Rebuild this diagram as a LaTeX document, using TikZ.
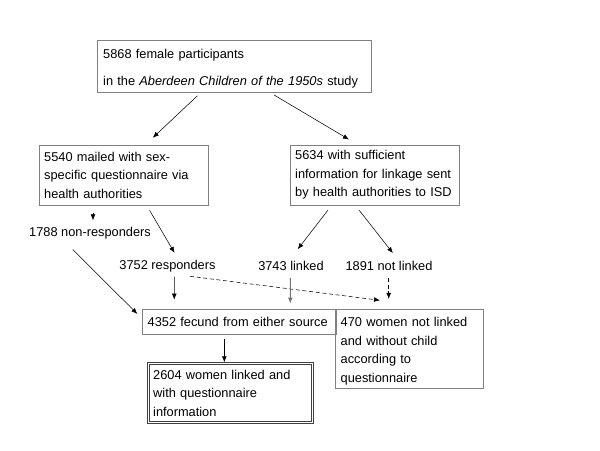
\documentclass[tikz,border=0pt]{standalone}
\usepackage{fontspec}
\setmainfont{Liberation Sans}
\usetikzlibrary{arrows.meta}
\definecolor{boxgray}{RGB}{128,128,128}
\newcommand{\flowfont}{\fontsize{9.6pt}{13.9pt}\selectfont}
\tikzset{
  box/.style={draw=boxgray, line width=0.6pt, align=left, inner xsep=3.6pt, inner ysep=0pt, font=\flowfont},
  lbl/.style={inner sep=0pt, minimum height=15pt, font=\flowfont},
  arr/.style={-{Latex[length=4.5pt,width=3.6pt]}, line width=0.4pt},
}
\begin{document}
\begin{tikzpicture}[x=0.75pt,y=-0.75pt]
\useasboundingbox (0,0) rectangle (600,450);

\node[box, inner xsep=4.2pt, text width=197pt, minimum height=39pt] (top) at (234.5,66)
  {\rule{0pt}{11.5pt}5868 female participants\\[6.3pt] in the \textit{Aberdeen Children of the 1950s} study};

\node[box, text width=119.7pt, minimum height=45pt] (mailed) at (124,175)
  {5540 mailed with sex-\\ specific questionnaire via\\ health authorities};
\node[box, text width=119.7pt, minimum height=45pt] (sufficient) at (375,175)
  {5634 with sufficient\\ information for linkage sent\\ by health authorities to ISD};

\node[lbl] (nonresp) at (90,233) {1788 non-responders};
\node[lbl] (resp) at (167.5,266) {3752 responders};
\node[lbl] (linked) at (291,266) {3743 linked};
\node[lbl] (notlinked) at (389,266) {1891 not linked};

\node[box, inner xsep=4.2pt, text width=137pt, minimum height=18.75pt] (fecund) at (239,321.5)
  {4352 fecund from either source};
\node[box, inner xsep=4.2pt, text width=102.5pt, minimum height=59.25pt] (n470) at (409,348.5)
  {\rule{0pt}{10.7pt}470 women not linked\\ and without child\\ according to\\ questionnaire};
\node[box, draw=black!75, double, double distance=1.2pt, inner xsep=3.6pt,
  text width=116pt, minimum height=44.5pt] (n2604) at (230.5,393)
  {2604 women linked and\\ with questionnaire\\ information};

\draw[arr, shorten <=3.75pt, shorten >=7.5pt] ([shift={(-33.5,0)}]top.south) -- ([shift={(21.5,0)}]mailed.north);
\draw[arr, shorten <=3.75pt, shorten >=7.5pt] ([shift={(35.2,0)}]top.south) -- ([shift={(-17.4,0)}]sufficient.north);
\draw[arr, shorten <=6pt, shorten >=1.8pt] ([shift={(-31,0)}]mailed.south) -- ([shift={(3,0)}]nonresp.north);
\draw[arr, shorten <=4.3pt, shorten >=2.5pt] ([shift={(22.7,0)}]mailed.south) -- ([shift={(8.7,0)}]resp.north);
\draw[arr, shorten <=4.5pt, shorten >=6.2pt] ([shift={(-43.4,0)}]sufficient.south) -- ([shift={(1.7,0)}]linked.north);
\draw[arr, shorten <=4.5pt, shorten >=2.5pt] ([shift={(-19.6,0)}]sufficient.south) -- ([shift={(5.9,0)}]notlinked.north);
\draw[arr, shorten <=6.7pt, shorten >=4.5pt] ([shift={(-23.6,0)}]nonresp.south) -- ([shift={(0,9.6)}]fecund.north west);
\draw[arr, shorten <=0.5pt, shorten >=6.75pt] ([shift={(6.8,0)}]resp.south) -- ([shift={(-64.7,0)}]fecund.north);
\draw[arr, densely dashed] ([shift={(22.5,0)}]resp.south) -- ([shift={(-29,-8.3)}]n470.north);
\draw[arr, draw=black!55, line width=0.7pt, shorten <=1.2pt, shorten >=3.75pt] ([shift={(-0.7,0)}]linked.south) -- ([shift={(51.3,0)}]fecund.north);
\draw[arr, densely dashed, shorten <=1.2pt, shorten >=7.3pt] ([shift={(-0.3,0)}]notlinked.south) -- ([shift={(-20.3,0)}]n470.north);
\draw[arr, shorten <=3.2pt, shorten >=0.5pt] ([shift={(-14.7,0)}]fecund.south) -- ([shift={(-6.2,0)}]n2604.north);
\end{tikzpicture}
\end{document}
